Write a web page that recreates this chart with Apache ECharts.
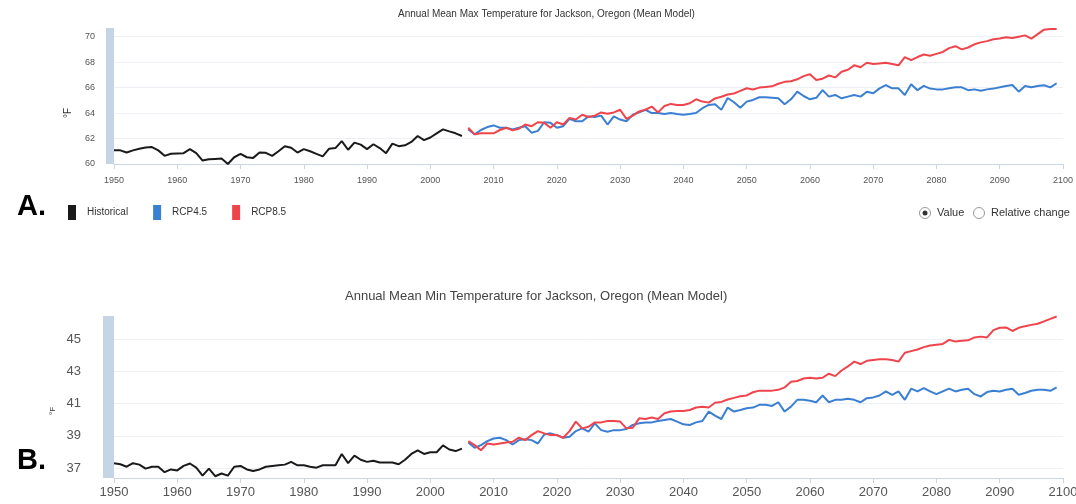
<!DOCTYPE html>
<html>
<head>
<meta charset="utf-8">
<script src="https://cdn.jsdelivr.net/npm/echarts@6/dist/echarts.min.js"></script>
<style>
  html, body { margin: 0; padding: 0; background: #fff; }
  #chart { width: 1076px; height: 504px; }
</style>
</head>
<body>
<div id="chart"></div>
<script>
// series names
const names = ['Historical', 'RCP4.5', 'RCP8.5'];
const histStart = 1950;
const projStart = 2006;

// A. annual mean max temperature (°F)
const maxHist = [
  61.07, 61.07, 60.9, 61.07, 61.2, 61.3, 61.33, 61.07, 60.64, 60.8,
  60.83, 60.85, 61.17, 60.85, 60.27, 60.37, 60.4, 60.43, 60.0, 60.53,
  60.8, 60.53, 60.48, 60.9, 60.88, 60.64, 61.0, 61.4, 61.28, 60.9,
  61.17, 61.0, 60.8, 60.6, 61.2, 61.25, 61.8, 61.12, 61.68, 61.52,
  61.17, 61.55, 61.25, 60.85, 61.6, 61.4, 61.47, 61.73, 62.2, 61.87,
  62.08, 62.4, 62.72, 62.56, 62.41, 62.2
];
const maxRcp45 = [
  62.72, 62.33, 62.67, 62.9,
  63.03, 62.85, 62.85, 62.72, 62.85, 62.97, 62.46, 62.6, 63.28, 63.23,
  62.85, 62.97, 63.54, 63.36, 63.36, 63.74, 63.69, 63.8, 63.1, 63.74,
  63.49, 63.36, 63.87, 64.05, 64.26, 64.0, 64.0, 63.92, 64.0, 63.92,
  63.87, 63.92, 64.0, 64.38, 64.64, 64.7, 64.25, 65.18, 64.85, 64.42,
  64.9, 65.03, 65.24, 65.24, 65.2, 65.16, 64.69, 65.08, 65.68, 65.34,
  65.08, 65.2, 65.8, 65.29, 65.42, 65.16, 65.29, 65.42, 65.29, 65.68,
  65.55, 65.94, 66.2, 65.94, 65.94, 65.42, 66.26, 65.8, 66.13, 65.92,
  65.86, 65.86, 65.94, 66.02, 66.02, 65.8, 65.86, 65.76, 65.86, 65.92,
  66.02, 66.13, 66.2, 65.68, 66.13, 66.02, 66.13, 66.18, 66.02, 66.34
];
const maxRcp85 = [
  62.85, 62.33, 62.41, 62.41,
  62.41, 62.67, 62.85, 62.64, 62.77, 63.1, 62.97, 63.28, 63.23, 62.85,
  63.28, 63.1, 63.62, 63.49, 63.87, 63.69, 63.8, 64.05, 63.95, 64.05,
  64.26, 63.54, 63.8, 64.13, 64.26, 64.51, 64.05, 64.56, 64.72, 64.64,
  64.64, 64.77, 65.08, 64.9, 64.82, 65.15, 65.28, 65.46, 65.54, 65.74,
  65.95, 65.85, 66.0, 66.05, 66.1, 66.3, 66.45, 66.5, 66.65, 66.9,
  67.05, 66.6, 66.7, 66.95, 66.8, 67.25, 67.4, 67.75, 67.6, 67.95,
  67.85, 67.9, 67.95, 67.85, 67.75, 68.4, 68.15, 68.4, 68.6, 68.5,
  68.65, 68.8, 69.1, 69.25, 69.0, 69.15, 69.4, 69.55, 69.65, 69.8,
  69.85, 69.95, 69.9, 70.0, 70.1, 69.85, 70.2, 70.55, 70.6, 70.6
];

// B. annual mean min temperature (°F)
const minHist = [
  37.3, 37.23, 37.08, 37.3, 37.21, 36.96, 37.08, 37.08, 36.74, 36.91,
  36.85, 37.13, 37.28, 37.02, 36.53, 36.96, 36.49, 36.66, 36.53, 37.08,
  37.13, 36.91, 36.81, 36.91, 37.08, 37.13, 37.17, 37.21, 37.38, 37.17,
  37.17, 37.08, 37.02, 37.17, 37.17, 37.17, 37.87, 37.3, 37.77, 37.51,
  37.38, 37.45, 37.34, 37.34, 37.34, 37.23, 37.51, 37.87, 38.09, 37.87,
  37.98, 37.98, 38.4, 38.15, 38.05, 38.2
];
const minRcp45 = [
  38.58, 38.25, 38.42, 38.67,
  38.83, 38.88, 38.73, 38.46, 38.73, 38.79, 38.73, 38.52, 39.08, 39.15,
  39.04, 38.88, 38.94, 39.29, 39.46, 39.25, 39.77, 39.35, 39.25, 39.35,
  39.35, 39.42, 39.67, 39.77, 39.83, 39.83, 39.92, 39.98, 40.04, 39.88,
  39.71, 39.67, 39.83, 39.92, 40.5, 40.25, 40.04, 40.75, 40.5, 40.6,
  40.71, 40.75, 40.92, 40.92, 40.85, 41.08, 40.5, 40.81, 41.23, 41.23,
  41.17, 41.08, 41.5, 41.08, 41.23, 41.23, 41.29, 41.23, 41.08, 41.33,
  41.38, 41.5, 41.75, 41.54, 41.75, 41.23, 41.92, 41.75, 41.96, 41.75,
  41.58, 41.75, 41.92, 41.75, 41.85, 41.92, 41.58, 41.44, 41.71, 41.79,
  41.75, 41.85, 41.92, 41.54, 41.65, 41.79, 41.85, 41.85, 41.79, 42.0
];
const minRcp85 = [
  38.67, 38.42, 38.1, 38.52,
  38.46, 38.52, 38.58, 38.63, 38.88, 38.73, 39.04, 39.29, 39.15, 39.04,
  39.04, 38.88, 39.29, 39.88, 39.46, 39.56, 39.83, 39.83, 39.92, 39.92,
  39.88, 39.46, 39.5, 40.08, 40.04, 40.13, 40.04, 40.4, 40.5, 40.54,
  40.54, 40.6, 40.75, 40.8, 40.75, 41.05, 41.1, 41.25, 41.35, 41.45,
  41.5, 41.7, 41.8, 41.8, 41.8, 41.85, 42.0, 42.35, 42.4, 42.55,
  42.6, 42.55, 42.6, 42.85, 42.7, 43.05, 43.3, 43.6, 43.45, 43.65,
  43.7, 43.75, 43.75, 43.7, 43.6, 44.15, 44.25, 44.35, 44.5, 44.6,
  44.65, 44.7, 44.95, 44.85, 44.9, 44.92, 45.1, 45.15, 45.1, 45.55,
  45.7, 45.72, 45.5, 45.7, 45.8, 45.88, 45.95, 46.1, 46.25, 46.4
];

// tick labels
const maxTicks = [60, 62, 64, 66, 68, 70];
const minTicks = [37, 39, 41, 43, 45];

const colors = ['#1a1a1a', '#3a7fd2', '#f0444c'];
const barColor = '#c5d5e6';
const axisColor = '#c9d6e6';
const gridColor = '#edf1f5';
const font = '"Liberation Sans", Arial, sans-serif';

function pairs(start, values) {
  return values.map((v, i) => [start + i, v]);
}

function line(name, idx, start, values, color) {
  return {
    name: name,
    type: 'line',
    xAxisIndex: idx,
    yAxisIndex: idx,
    data: pairs(start, values),
    symbol: 'none',
    lineStyle: { width: 2, color: color },
    itemStyle: { color: color },
    emphasis: { disabled: true },
    z: 3
  };
}

function xAxis(idx, size, margin) {
  return {
    gridIndex: idx,
    type: 'value',
    min: 1950,
    max: 2100,
    interval: 10,
    axisLine: { onZero: false, lineStyle: { color: axisColor, width: 1 } },
    axisTick: { show: true, length: 5, lineStyle: { color: axisColor } },
    axisLabel: { fontSize: size, color: '#555', margin: margin, fontFamily: font, formatter: v => String(v) },
    splitLine: { show: false }
  };
}

function yAxis(idx, min, max, ticks, size, margin, offset, barWidth) {
  return {
    gridIndex: idx,
    type: 'value',
    min: min,
    max: max,
    offset: offset,
    axisLine: { show: true, onZero: false, lineStyle: { color: barColor, width: barWidth, cap: 'butt' } },
    axisTick: { show: false, customValues: ticks },
    axisLabel: { customValues: ticks, fontSize: size, color: '#555', margin: margin, fontFamily: font },
    splitLine: { show: true, lineStyle: { color: gridColor, width: 1 } }
  };
}

const chart = echarts.init(document.getElementById('chart'), null, { renderer: 'canvas' });

chart.setOption({
  animation: false,
  backgroundColor: '#fff',
  textStyle: { fontFamily: font },
  title: [
    {
      text: 'Annual Mean Max Temperature for Jackson, Oregon (Mean Model)',
      left: 398, top: 9, padding: 0,
      textStyle: { fontSize: 10, fontWeight: 'normal', color: '#333', fontFamily: font }
    },
    {
      text: 'Annual Mean Min Temperature for Jackson, Oregon (Mean Model)',
      left: 345, top: 290, padding: 0,
      textStyle: { fontSize: 13, fontWeight: 'normal', color: '#444', fontFamily: font }
    }
  ],
  legend: {
    left: 68,
    top: 205,
    padding: 0,
    icon: 'rect',
    itemWidth: 8,
    itemHeight: 15,
    itemGap: 25,
    textStyle: { fontSize: 10, color: '#333', fontFamily: font, padding: [0, 0, 0, 6] },
    data: names
  },
  grid: [
    { left: 114, right: 13, top: 28, height: 136, outerBoundsMode: 'none' },
    { left: 114, right: 13, top: 316, height: 162, outerBoundsMode: 'none' }
  ],
  xAxis: [xAxis(0, 9, 12), xAxis(1, 13, 8)],
  yAxis: [
    yAxis(0, 60, 70.68, maxTicks, 9, 15, 4, 8),
    yAxis(1, 36.38, 46.43, minTicks, 13, 27, 6, 11)
  ],
  graphic: [
    { type: 'text', left: 17, top: 192, style: { text: 'A.', font: 'bold 29px ' + font, fill: '#000' } },
    { type: 'text', left: 17, top: 446, style: { text: 'B.', font: 'bold 29px ' + font, fill: '#000' } },
    { type: 'text', x: 68, y: 113, rotation: Math.PI / 2,
      style: { text: '°F', font: '10px ' + font, fill: '#333', align: 'center', verticalAlign: 'middle' } },
    { type: 'text', x: 53, y: 411, rotation: Math.PI / 2,
      style: { text: '°F', font: '8px ' + font, fill: '#333', align: 'center', verticalAlign: 'middle' } },
    { type: 'circle', shape: { cx: 925, cy: 213, r: 5.5 }, style: { fill: '#fff', stroke: '#999', lineWidth: 1 } },
    { type: 'circle', shape: { cx: 925, cy: 213, r: 2.5 }, style: { fill: '#333' } },
    { type: 'text', x: 937, y: 213, style: { text: 'Value', font: '11px ' + font, fill: '#333', verticalAlign: 'middle' } },
    { type: 'circle', shape: { cx: 979, cy: 213, r: 5.5 }, style: { fill: '#fff', stroke: '#999', lineWidth: 1 } },
    { type: 'text', x: 991, y: 213, style: { text: 'Relative change', font: '11px ' + font, fill: '#333', verticalAlign: 'middle' } }
  ],
  series: [
    line(names[0], 0, histStart, maxHist, colors[0]),
    line(names[1], 0, projStart, maxRcp45, colors[1]),
    line(names[2], 0, projStart, maxRcp85, colors[2]),
    line(names[0], 1, histStart, minHist, colors[0]),
    line(names[1], 1, projStart, minRcp45, colors[1]),
    line(names[2], 1, projStart, minRcp85, colors[2])
  ]
});
</script>
</body>
</html>
